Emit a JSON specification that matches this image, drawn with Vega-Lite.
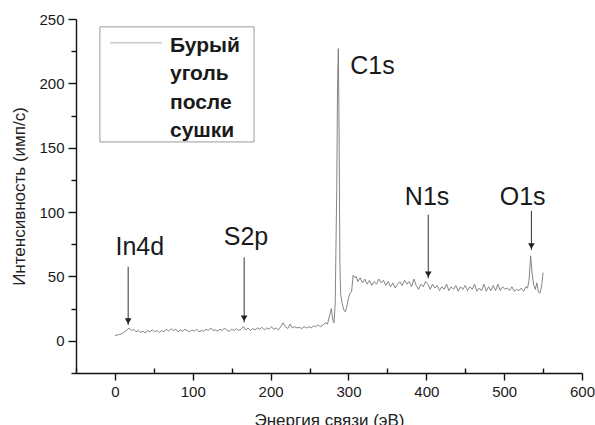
{
  "$schema": "https://vega.github.io/schema/vega-lite/v6.json",
  "width": 506,
  "height": 354,
  "autosize": {"type": "none"},
  "padding": {"left": 76, "top": 19, "right": 13, "bottom": 52},
  "background": "white",
  "config": {
    "view": {"stroke": null},
    "font": "Liberation Sans",
    "axis": {
      "domainColor": "#111",
      "domainWidth": 1.4,
      "tickColor": "#111",
      "tickWidth": 1.4,
      "labelFont": "Liberation Sans",
      "labelFontSize": 15,
      "labelColor": "#1a1a1a",
      "titleFont": "Liberation Sans",
      "titleFontSize": 17,
      "titleFontWeight": "normal",
      "titleColor": "#222",
      "grid": false
    }
  },
  "resolve": {"axis": {"x": "independent", "y": "independent"}},
  "datasets": {
    "spectrum": [
      {"E": 0, "I": 4}, {"E": 3, "I": 4.5}, {"E": 6, "I": 5}, {"E": 9, "I": 5.5}, {"E": 12, "I": 7},
      {"E": 15, "I": 8}, {"E": 18, "I": 10}, {"E": 21, "I": 8}, {"E": 24, "I": 9}, {"E": 27, "I": 7},
      {"E": 30, "I": 8}, {"E": 33, "I": 6.5}, {"E": 36, "I": 7.5}, {"E": 39, "I": 6}, {"E": 42, "I": 8},
      {"E": 45, "I": 7}, {"E": 48, "I": 8.5}, {"E": 51, "I": 7}, {"E": 54, "I": 8}, {"E": 57, "I": 6.5},
      {"E": 60, "I": 8}, {"E": 63, "I": 7}, {"E": 66, "I": 9}, {"E": 69, "I": 7.5}, {"E": 72, "I": 9.5},
      {"E": 75, "I": 8}, {"E": 78, "I": 9}, {"E": 81, "I": 7}, {"E": 84, "I": 8.5}, {"E": 87, "I": 7.5},
      {"E": 90, "I": 9}, {"E": 93, "I": 8}, {"E": 96, "I": 7}, {"E": 99, "I": 8.5}, {"E": 102, "I": 7.5},
      {"E": 105, "I": 9}, {"E": 108, "I": 7}, {"E": 111, "I": 8}, {"E": 114, "I": 7.5}, {"E": 117, "I": 9},
      {"E": 120, "I": 8}, {"E": 123, "I": 10}, {"E": 126, "I": 8}, {"E": 129, "I": 8.5}, {"E": 132, "I": 7.5},
      {"E": 135, "I": 9}, {"E": 138, "I": 8}, {"E": 141, "I": 10}, {"E": 144, "I": 8}, {"E": 147, "I": 7.5},
      {"E": 150, "I": 9}, {"E": 153, "I": 8}, {"E": 156, "I": 9.5}, {"E": 159, "I": 8}, {"E": 162, "I": 9},
      {"E": 165, "I": 11}, {"E": 168, "I": 8.5}, {"E": 171, "I": 10}, {"E": 174, "I": 8}, {"E": 177, "I": 9.5},
      {"E": 180, "I": 8.5}, {"E": 183, "I": 10}, {"E": 186, "I": 9}, {"E": 189, "I": 10.5}, {"E": 192, "I": 8.5},
      {"E": 195, "I": 10}, {"E": 198, "I": 9}, {"E": 201, "I": 11}, {"E": 204, "I": 9}, {"E": 207, "I": 10},
      {"E": 210, "I": 8.5}, {"E": 213, "I": 11}, {"E": 216, "I": 14}, {"E": 219, "I": 11}, {"E": 222, "I": 9.5},
      {"E": 225, "I": 13}, {"E": 228, "I": 10}, {"E": 231, "I": 11}, {"E": 234, "I": 10}, {"E": 237, "I": 10.5},
      {"E": 240, "I": 9.5}, {"E": 243, "I": 11}, {"E": 246, "I": 10}, {"E": 249, "I": 11}, {"E": 252, "I": 10},
      {"E": 255, "I": 11.5}, {"E": 258, "I": 11}, {"E": 261, "I": 12.5}, {"E": 264, "I": 11}, {"E": 267, "I": 12},
      {"E": 270, "I": 14}, {"E": 273, "I": 13}, {"E": 276, "I": 20}, {"E": 278, "I": 25}, {"E": 280, "I": 16},
      {"E": 281.5, "I": 14}, {"E": 283, "I": 30}, {"E": 285, "I": 120}, {"E": 286, "I": 200}, {"E": 287, "I": 227},
      {"E": 288, "I": 160}, {"E": 289, "I": 60}, {"E": 290, "I": 36}, {"E": 292, "I": 29}, {"E": 294, "I": 24},
      {"E": 296, "I": 22.5}, {"E": 298, "I": 27}, {"E": 300, "I": 33}, {"E": 302, "I": 37}, {"E": 304, "I": 38},
      {"E": 306, "I": 51}, {"E": 308, "I": 49}, {"E": 310, "I": 50}, {"E": 312, "I": 46}, {"E": 315, "I": 49},
      {"E": 318, "I": 45}, {"E": 321, "I": 48}, {"E": 324, "I": 44}, {"E": 327, "I": 47}, {"E": 330, "I": 43},
      {"E": 333, "I": 46}, {"E": 336, "I": 44}, {"E": 339, "I": 48}, {"E": 342, "I": 45}, {"E": 345, "I": 47},
      {"E": 348, "I": 43}, {"E": 351, "I": 46}, {"E": 354, "I": 42}, {"E": 357, "I": 45}, {"E": 360, "I": 41},
      {"E": 363, "I": 44}, {"E": 366, "I": 46}, {"E": 369, "I": 43}, {"E": 372, "I": 47}, {"E": 375, "I": 44},
      {"E": 378, "I": 46}, {"E": 381, "I": 42}, {"E": 384, "I": 48}, {"E": 387, "I": 43}, {"E": 390, "I": 40},
      {"E": 393, "I": 44}, {"E": 396, "I": 42}, {"E": 399, "I": 46}, {"E": 402, "I": 44}, {"E": 405, "I": 40},
      {"E": 408, "I": 44}, {"E": 411, "I": 41}, {"E": 414, "I": 43}, {"E": 417, "I": 39}, {"E": 420, "I": 42},
      {"E": 423, "I": 40}, {"E": 426, "I": 44}, {"E": 429, "I": 39}, {"E": 432, "I": 42}, {"E": 435, "I": 40},
      {"E": 438, "I": 43}, {"E": 441, "I": 38.5}, {"E": 444, "I": 42}, {"E": 447, "I": 40}, {"E": 450, "I": 43},
      {"E": 453, "I": 39}, {"E": 456, "I": 42}, {"E": 459, "I": 40}, {"E": 462, "I": 44}, {"E": 465, "I": 38.5},
      {"E": 468, "I": 41}, {"E": 471, "I": 39}, {"E": 474, "I": 44}, {"E": 477, "I": 38.5}, {"E": 480, "I": 42},
      {"E": 483, "I": 39}, {"E": 486, "I": 43}, {"E": 489, "I": 39}, {"E": 492, "I": 44}, {"E": 495, "I": 39},
      {"E": 498, "I": 42}, {"E": 501, "I": 40}, {"E": 504, "I": 41}, {"E": 507, "I": 39}, {"E": 510, "I": 42},
      {"E": 513, "I": 38.5}, {"E": 516, "I": 40}, {"E": 519, "I": 39}, {"E": 522, "I": 41}, {"E": 525, "I": 38.5},
      {"E": 528, "I": 42}, {"E": 530, "I": 41}, {"E": 532, "I": 47}, {"E": 534, "I": 66}, {"E": 536, "I": 52},
      {"E": 538, "I": 43}, {"E": 540, "I": 40}, {"E": 542, "I": 45}, {"E": 544, "I": 38}, {"E": 546, "I": 37},
      {"E": 548, "I": 42}, {"E": 550, "I": 53}
    ],
    "arrows": [
      {"peak": "In4d", "E": 17, "top": 57.5, "tip": 12.2},
      {"peak": "S2p", "E": 166, "top": 64.8, "tip": 14.3},
      {"peak": "N1s", "E": 402.5, "top": 98, "tip": 48.5},
      {"peak": "O1s", "E": 535, "top": 101, "tip": 70.5}
    ],
    "labels": [
      {"text": "In4d", "E": 32, "I": 66.6},
      {"text": "S2p", "E": 168.4, "I": 74.4},
      {"text": "C1s", "E": 330.9, "I": 207.4},
      {"text": "N1s", "E": 401, "I": 105.5},
      {"text": "O1s", "E": 523.8, "I": 105.5}
    ],
    "legendbox": [{"x1": -19.3, "x2": 178.7, "y1": 243.9, "y2": 154.5}],
    "legendline": [{"x1": -6.4, "x2": 60.4, "y": 231.5}],
    "legendtext": [{"text": "Бурый\nуголь\nпосле\nсушки", "x": 70.7, "y": 224.5}]
  },
  "layer": [
    {
      "data": {"name": "spectrum"},
      "mark": {"type": "line", "color": "#777777", "strokeWidth": 0.9, "interpolate": "linear"},
      "encoding": {
        "x": {
          "field": "E", "type": "quantitative",
          "scale": {"domain": [-50, 600], "nice": false, "zero": false},
          "axis": {
            "orient": "bottom",
            "title": "Энергия связи (эВ)",
            "values": [0, 100, 200, 300, 400, 500, 600],
            "tickSize": 7,
            "labelPadding": 4,
            "titlePadding": 13,
            "labelFlush": false,
            "labelOverlap": false
          }
        },
        "y": {
          "field": "I", "type": "quantitative",
          "scale": {"domain": [-25, 250], "nice": false, "zero": false},
          "axis": {
            "orient": "left",
            "title": "Интенсивность (имп/с)",
            "values": [0, 50, 100, 150, 200, 250],
            "tickSize": 8,
            "labelPadding": 4,
            "titlePadding": 10,
            "labelFlush": false,
            "labelOverlap": false
          }
        }
      }
    },
    {
      "data": {"name": "arrows"},
      "mark": {"type": "rule", "color": "#333333", "strokeWidth": 1},
      "encoding": {
        "x": {
          "field": "E", "type": "quantitative",
          "axis": {"orient": "bottom", "values": [-50, 50, 150, 250, 350, 450, 550], "labels": false, "domain": false, "title": null, "tickSize": -5}
        },
        "y": {
          "field": "top", "type": "quantitative",
          "axis": {"orient": "left", "values": [-25, 25, 75, 125, 175, 225], "labels": false, "domain": false, "title": null, "tickSize": 5}
        },
        "y2": {"field": "tip"}
      }
    },
    {
      "data": {"name": "arrows"},
      "mark": {"type": "point", "shape": "triangle-down", "filled": true, "color": "#222222", "size": 45, "opacity": 1, "yOffset": -4},
      "encoding": {
        "x": {"field": "E", "type": "quantitative", "axis": null},
        "y": {"field": "tip", "type": "quantitative", "axis": null}
      }
    },
    {
      "data": {"name": "labels"},
      "mark": {"type": "text", "font": "Liberation Sans", "fontSize": 25, "color": "#1a1a1a", "align": "center", "baseline": "alphabetic"},
      "encoding": {
        "x": {"field": "E", "type": "quantitative", "axis": null},
        "y": {"field": "I", "type": "quantitative", "axis": null},
        "text": {"field": "text"}
      }
    },
    {
      "data": {"name": "legendbox"},
      "mark": {"type": "rect", "fill": null, "fillOpacity": 0, "stroke": "#9a9a9a", "strokeWidth": 1},
      "encoding": {
        "x": {"field": "x1", "type": "quantitative", "axis": null},
        "x2": {"field": "x2"},
        "y": {"field": "y1", "type": "quantitative", "axis": null},
        "y2": {"field": "y2"}
      }
    },
    {
      "data": {"name": "legendline"},
      "mark": {"type": "rule", "color": "#b0b0b0", "strokeWidth": 1},
      "encoding": {
        "x": {"field": "x1", "type": "quantitative", "axis": null},
        "x2": {"field": "x2"},
        "y": {"field": "y", "type": "quantitative", "axis": null}
      }
    },
    {
      "data": {"name": "legendtext"},
      "mark": {"type": "text", "font": "Liberation Sans", "fontSize": 21, "fontWeight": "bold", "color": "#1a1a1a", "align": "left", "baseline": "alphabetic", "lineBreak": "\n", "lineHeight": 28.5},
      "encoding": {
        "x": {"field": "x", "type": "quantitative", "axis": null},
        "y": {"field": "y", "type": "quantitative", "axis": null},
        "text": {"field": "text"}
      }
    }
  ]
}
